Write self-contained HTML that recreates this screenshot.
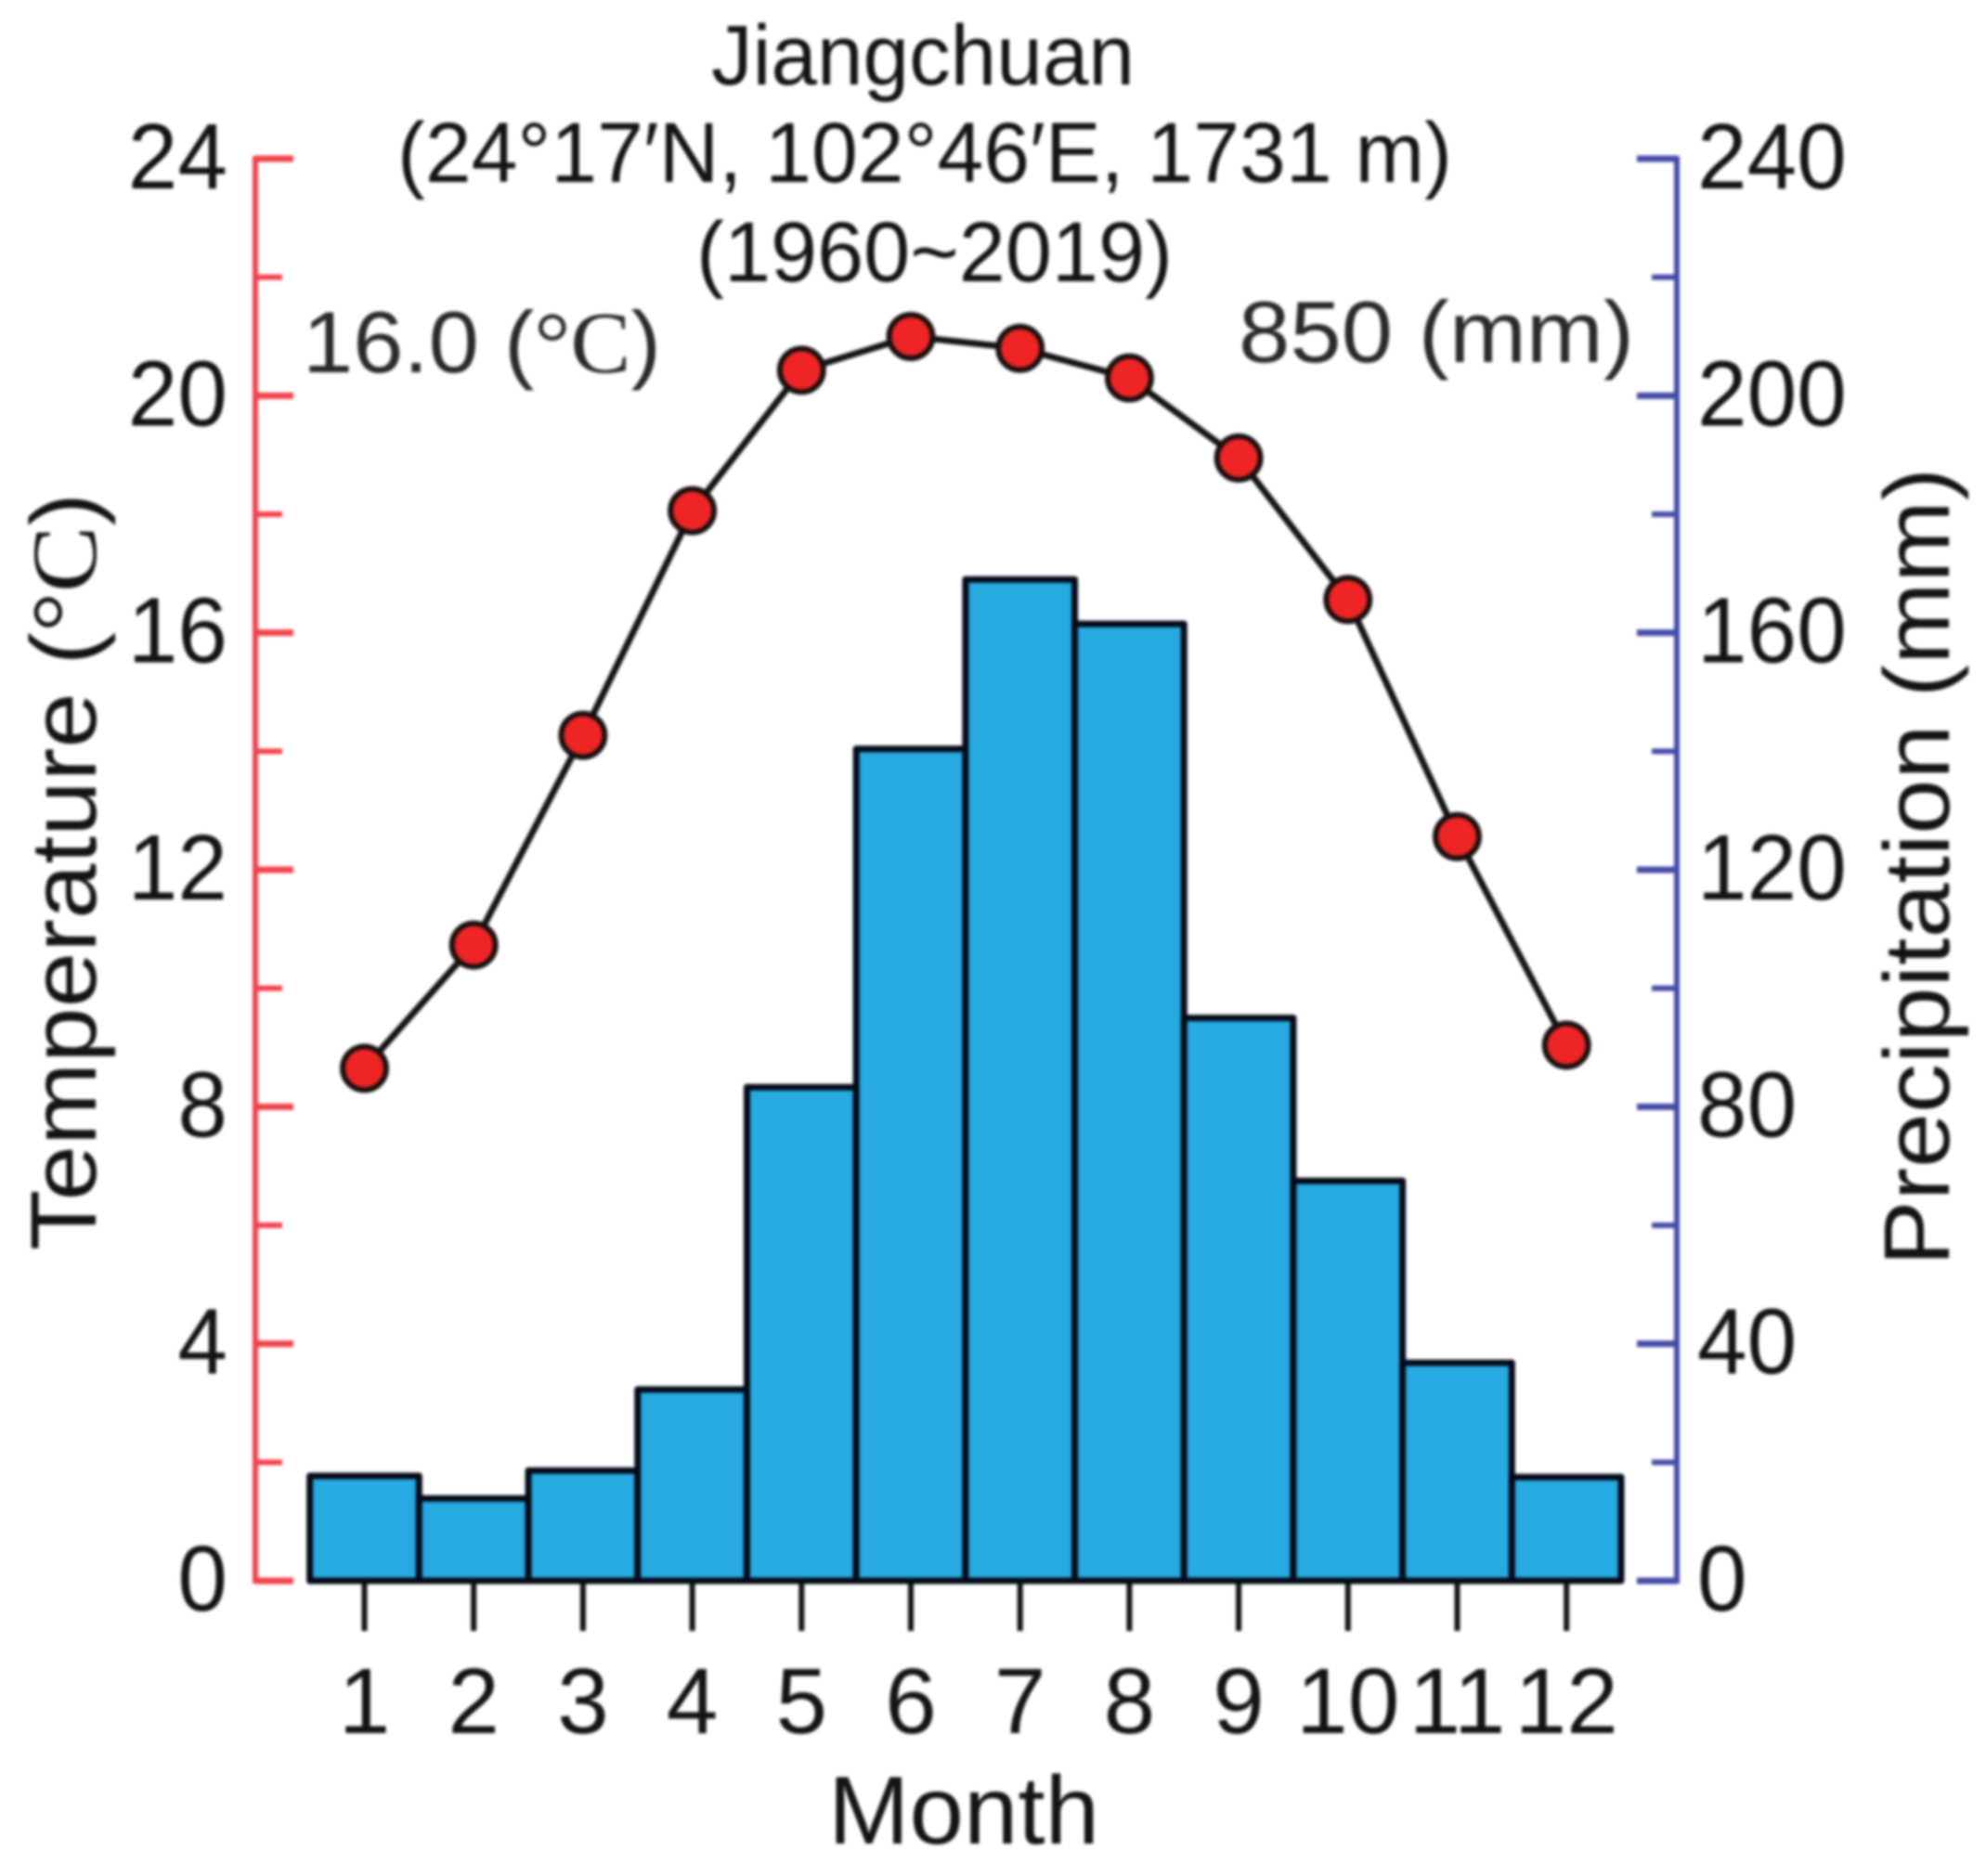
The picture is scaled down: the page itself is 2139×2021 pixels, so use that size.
<!DOCTYPE html>
<html lang="en">
<head>
<meta charset="utf-8">
<title>Jiangchuan climate chart</title>
<style>
html,body{margin:0;padding:0;background:#fff;width:2139px;height:2021px;overflow:hidden}
svg{display:block;filter:blur(1.5px)}
text{font-family:"Liberation Sans",sans-serif;fill:#141414}
.serif{font-family:"Liberation Serif",serif}
</style>
</head>
<body>
<svg id="chart" xmlns="http://www.w3.org/2000/svg" width="2139" height="2021" viewBox="0 0 2139 2021">
  <rect width="2139" height="2021" fill="#fff"/>
  <g id="axes"></g>
  <g id="bars"></g>
  <g id="line"></g>
  <text x="766" y="91" font-size="92" textLength="456" lengthAdjust="spacingAndGlyphs">Jiangchuan</text>
  <text x="428" y="196" font-size="92" textLength="1136" lengthAdjust="spacingAndGlyphs">(24°17′N, 102°46′E, 1731 m)</text>
  <text x="750" y="303" font-size="92" textLength="513" lengthAdjust="spacingAndGlyphs">(1960~2019)</text>
  <text x="326" y="401" font-size="94" textLength="386" lengthAdjust="spacingAndGlyphs" style="fill:#2a2a2a">16.0 (<tspan class="serif" style="fill:#2a2a2a">°C</tspan>)</text>
  <text x="1334" y="390" font-size="94" textLength="426" lengthAdjust="spacingAndGlyphs" style="fill:#2a2a2a">850 (mm)</text>
  <text x="892" y="1986" font-size="104" textLength="292" lengthAdjust="spacingAndGlyphs">Month</text>
  <text transform="translate(103,1347) rotate(-90)" font-size="100" textLength="816" lengthAdjust="spacingAndGlyphs">Temperature (<tspan class="serif">°C</tspan>)</text>
  <text transform="translate(2099,1364) rotate(-90)" font-size="100" textLength="860" lengthAdjust="spacingAndGlyphs">Precipitation (mm)</text>
</svg>
<script>
const months = [1, 2, 3, 4, 5, 6, 7, 8, 9, 10, 11, 12];
const temperature = [8.65, 10.73, 14.27, 18.06, 20.43, 21.0, 20.8, 20.3, 18.95, 16.56, 12.56, 9.04];
const precipitation = [17.7, 13.9, 18.6, 32.3, 83.3, 140.4, 169, 161.5, 95, 67.5, 36.8, 17.5];
const tempTicks = [0, 4, 8, 12, 16, 20, 24];
const tempMinorTicks = [2, 6, 10, 14, 18, 22];
const precipTicks = [0, 40, 80, 120, 160, 200, 240];
const precipMinorTicks = [20, 60, 100, 140, 180, 220];

const NS = 'http://www.w3.org/2000/svg';
const Y0 = 1703, PLOT_H = 1532, X1 = 392.5, STEP = 117.7;
const xScale = m => X1 + (m - 1) * STEP;
const yTemp = v => Y0 - v / 24 * PLOT_H;
const yPrecip = v => Y0 - v / 240 * PLOT_H;
const RED = '#f1424a', BLUE = '#444ba8', LEFT = 275, RIGHT = 1806;
const DIGIT_W = 53.6;

function make(tag, attrs, parent) {
  const el = document.createElementNS(NS, tag);
  for (const k in attrs) el.setAttribute(k, attrs[k]);
  parent.appendChild(el);
  return el;
}
const axes = document.getElementById('axes');
const barsG = document.getElementById('bars');
const lineG = document.getElementById('line');

const leftAxis = make('line', {x1: LEFT, x2: LEFT, y1: yTemp(24) - 3, y2: Y0 + 3, stroke: RED, 'stroke-width': 6}, axes);


const rightAxis = make('line', {x1: RIGHT, x2: RIGHT, y1: yPrecip(240) - 3, y2: Y0 + 3, stroke: BLUE, 'stroke-width': 6}, axes);



tempTicks.forEach(v => {
  const t = make('line', {x1: LEFT, x2: 316, y1: yTemp(v), y2: yTemp(v), stroke: RED, 'stroke-width': 7}, axes);
  
  
  const l = make('text', {x: 245, y: yTemp(v) + 32, 'font-size': 100, 'text-anchor': 'end', textLength: String(v).length * DIGIT_W, lengthAdjust: 'spacingAndGlyphs'}, axes);
  
  
  l.textContent = v;
});
tempMinorTicks.forEach(v => {
  const t = make('line', {x1: LEFT, x2: 304, y1: yTemp(v), y2: yTemp(v), stroke: RED, 'stroke-width': 6}, axes);
  
  
});
precipTicks.forEach(v => {
  const t = make('line', {x1: 1763, x2: RIGHT, y1: yPrecip(v), y2: yPrecip(v), stroke: BLUE, 'stroke-width': 7}, axes);
  
  
  const l = make('text', {x: 1828, y: yPrecip(v) + 32, 'font-size': 100, textLength: String(v).length * DIGIT_W, lengthAdjust: 'spacingAndGlyphs'}, axes);
  
  
  l.textContent = v;
});
precipMinorTicks.forEach(v => {
  const t = make('line', {x1: 1779, x2: RIGHT, y1: yPrecip(v), y2: yPrecip(v), stroke: BLUE, 'stroke-width': 6}, axes);
  
  
});

months.forEach((m, i) => {
  const x = xScale(m);
  const top = yPrecip(precipitation[i]);
  const b = make('rect', {x: x - STEP / 2, y: top, width: STEP, height: Y0 - top, fill: '#27a9e1', stroke: '#050a18', 'stroke-width': 7, 'stroke-linejoin': 'round'}, barsG);
  
  
  const t = make('line', {x1: x, x2: x, y1: Y0, y2: 1757, stroke: '#111', 'stroke-width': 6}, axes);
  
  
  const l = make('text', {x: x, y: 1867, 'font-size': 100, 'text-anchor': 'middle'}, axes);
  
  
  l.textContent = m;
});

const poly = make('polyline', {points: months.map((m, i) => xScale(m) + ',' + yTemp(temperature[i])).join(' '), fill: 'none', stroke: '#141414', 'stroke-width': 7}, lineG);


months.forEach((m, i) => {
  const c = make('circle', {cx: xScale(m), cy: yTemp(temperature[i]), r: 23.5, fill: '#ee2524', stroke: '#1a1010', 'stroke-width': 6}, lineG);
  
  
});
</script>
</body>
</html>
